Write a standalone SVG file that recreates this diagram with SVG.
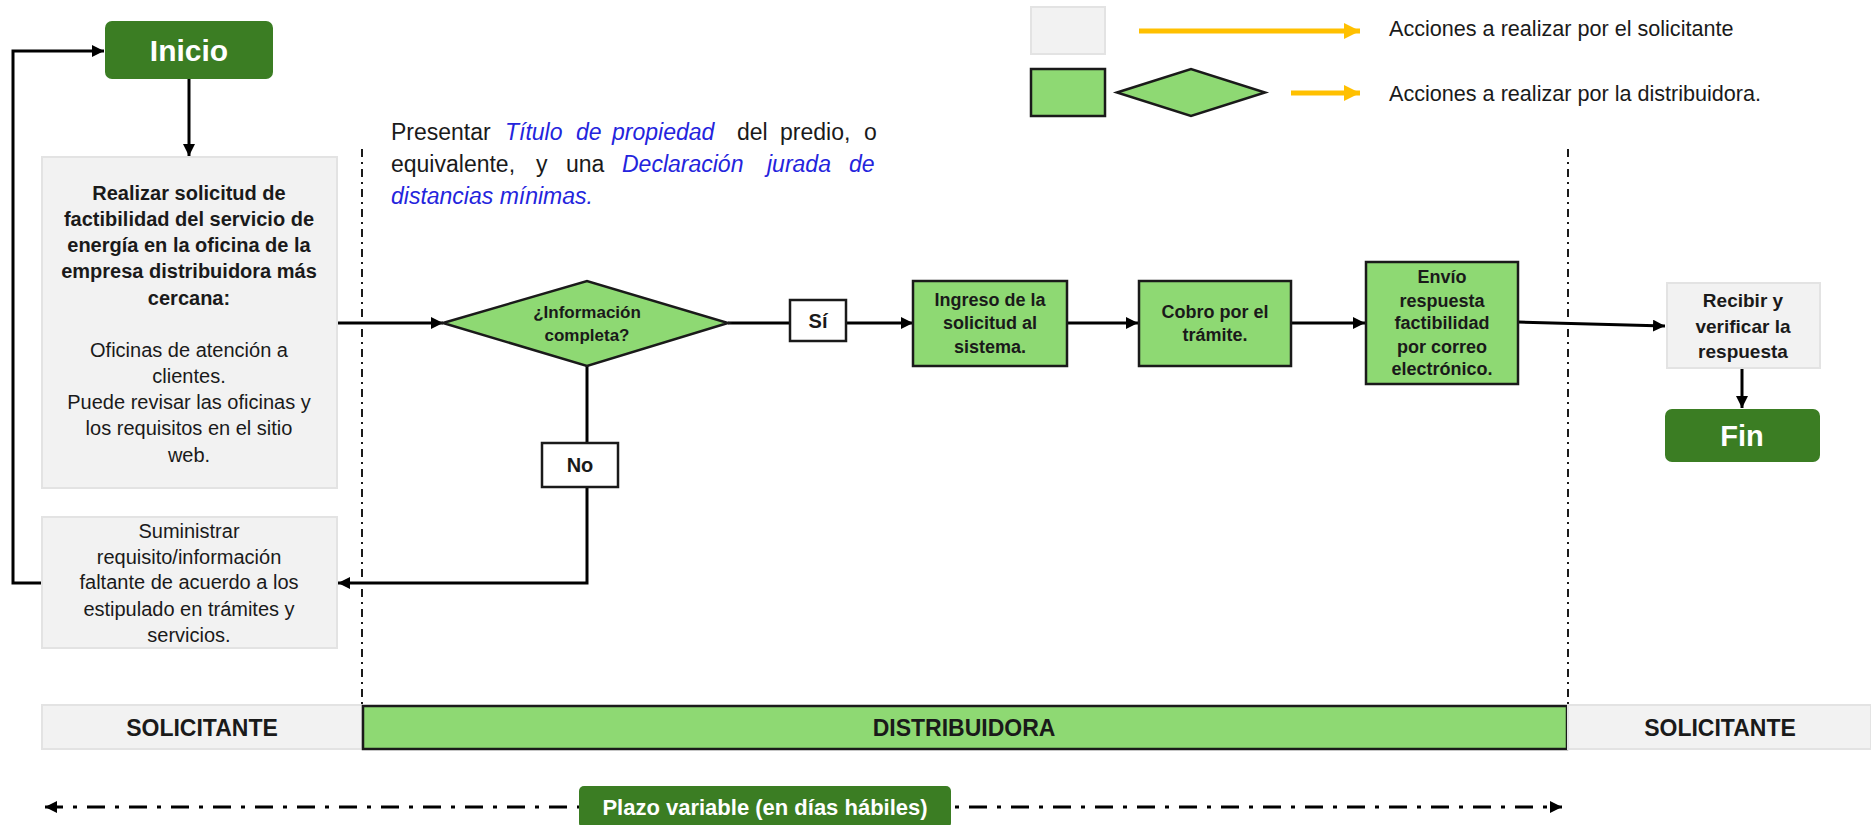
<svg xmlns="http://www.w3.org/2000/svg" width="1871" height="825" viewBox="0 0 1871 825">
<defs>
<style>
text{font-family:"Liberation Sans",Arial,sans-serif;fill:#1a1a1a}
.b{font-weight:bold}
.c{text-anchor:middle}
.gray{fill:#F2F2F2;stroke:#E3E3E3;stroke-width:2}
.green{fill:#8ED973;stroke:#1a1a1a;stroke-width:2.5}
.dark{fill:#3B7D23}
.wt{fill:#ffffff;font-weight:bold;text-anchor:middle}
.lbl{fill:#ffffff;stroke:#1a1a1a;stroke-width:2.5}
.con{fill:none;stroke:#000;stroke-width:3}
.sep{fill:none;stroke:#1a1a1a;stroke-width:2;stroke-dasharray:8 5 2 5}
.blue{fill:#2424DD;font-style:italic}
.yel{fill:none;stroke:#FFC000;stroke-width:5}
</style>
<marker id="ah" viewBox="0 0 10 10" refX="10" refY="5" markerWidth="4" markerHeight="4" markerUnits="strokeWidth" orient="auto-start-reverse">
<path d="M0,0 L10,5 L0,10 z" fill="#000"/>
</marker>
<marker id="ya" viewBox="0 0 10 10" refX="10" refY="5" markerWidth="3.2" markerHeight="3.2" markerUnits="strokeWidth" orient="auto">
<path d="M0,0 L10,5 L0,10 z" fill="#FFC000"/>
</marker>
</defs>
<rect width="1871" height="825" fill="#ffffff"/>

<!-- separators -->
<g id="separators">
<line class="sep" x1="362" y1="149" x2="362" y2="706"/>
<line class="sep" x1="1568" y1="149" x2="1568" y2="706"/>
</g>

<!-- legend -->
<g id="legend">
<rect class="gray" x="1031" y="7" width="74" height="47"/>
<rect class="green" x="1031" y="69" width="74" height="47"/>
<polygon class="green" points="1117,92.5 1191,69 1265,92.5 1191,116"/>
<line class="yel" x1="1139" y1="31" x2="1360" y2="31" marker-end="url(#ya)"/>
<line class="yel" x1="1291" y1="93" x2="1360" y2="93" marker-end="url(#ya)"/>
<text x="1389" y="36" font-size="21.6">Acciones a realizar por el solicitante</text>
<text x="1389" y="101" font-size="21.6">Acciones a realizar por la distribuidora.</text>
</g>

<!-- note -->
<g id="note" font-size="23">
<text y="140"><tspan x="391">Presentar</tspan><tspan class="blue" x="505">Título</tspan><tspan class="blue" x="576">de</tspan><tspan class="blue" x="612">propiedad</tspan><tspan x="737">del</tspan><tspan x="780">predio,</tspan><tspan x="864">o</tspan></text>
<text y="172"><tspan x="391">equivalente,</tspan><tspan x="536">y</tspan><tspan x="566">una</tspan><tspan class="blue" x="622">Declaración</tspan><tspan class="blue" x="767">jurada</tspan><tspan class="blue" x="849">de</tspan></text>
<text y="204"><tspan class="blue" x="391">distancias mínimas.</tspan></text>
</g>

<!-- connectors -->
<g id="connectors">
<line class="con" x1="189" y1="79" x2="189" y2="156" marker-end="url(#ah)"/>
<line class="con" x1="337" y1="323" x2="443" y2="323" marker-end="url(#ah)"/>
<line class="con" x1="728" y1="323" x2="790" y2="323"/>
<line class="con" x1="846" y1="323" x2="913" y2="323" marker-end="url(#ah)"/>
<line class="con" x1="587" y1="366" x2="587" y2="443"/>
<polyline class="con" points="587,487 587,583 338,583" marker-end="url(#ah)"/>
<polyline class="con" points="42,583 13,583 13,51 104,51" marker-end="url(#ah)"/>
<line class="con" x1="1067" y1="323" x2="1138" y2="323" marker-end="url(#ah)"/>
<line class="con" x1="1291" y1="323" x2="1365" y2="323" marker-end="url(#ah)"/>
<line class="con" x1="1518" y1="322" x2="1665" y2="326" marker-end="url(#ah)"/>
<line class="con" x1="1742" y1="368" x2="1742" y2="408" marker-end="url(#ah)"/>
<line x1="45" y1="807" x2="1562" y2="807" stroke="#000" stroke-width="3" stroke-dasharray="18 10 4 10" marker-start="url(#ah)" marker-end="url(#ah)"/>
</g>

<!-- nodes -->
<g id="inicio">
<rect class="dark" x="105" y="21" width="168" height="58" rx="7"/>
<text class="wt" x="189" y="61" font-size="30">Inicio</text>
</g>

<g id="solicitud" font-size="20">
<rect class="gray" x="42" y="157" width="295" height="331"/>
<text class="b c" x="189" y="200">Realizar solicitud de</text>
<text class="b c" x="189" y="226">factibilidad del servicio de</text>
<text class="b c" x="189" y="252">energía en la oficina de la</text>
<text class="b c" x="189" y="278">empresa distribuidora más</text>
<text class="b c" x="189" y="305">cercana:</text>
<text class="c" x="189" y="357">Oficinas de atención a</text>
<text class="c" x="189" y="383">clientes.</text>
<text class="c" x="189" y="409">Puede revisar las oficinas y</text>
<text class="c" x="189" y="435">los requisitos en el sitio</text>
<text class="c" x="189" y="462">web.</text>
</g>

<g id="suministrar" font-size="20">
<rect class="gray" x="42" y="517" width="295" height="131"/>
<text class="c" x="189" y="538">Suministrar</text>
<text class="c" x="189" y="564">requisito/información</text>
<text class="c" x="189" y="589">faltante de acuerdo a los</text>
<text class="c" x="189" y="616">estipulado en trámites y</text>
<text class="c" x="189" y="642">servicios.</text>
</g>

<g id="decision" font-size="17">
<polygon class="green" points="443,323 587,281 728,323 587,366"/>
<text class="b c" x="587" y="318">¿Información</text>
<text class="b c" x="587" y="341">completa?</text>
</g>

<g id="si">
<rect class="lbl" x="790" y="300" width="56" height="41"/>
<text class="b c" x="818" y="328" font-size="20">Sí</text>
</g>

<g id="no">
<rect class="lbl" x="542" y="443" width="76" height="44"/>
<text class="b c" x="580" y="472" font-size="20">No</text>
</g>

<g id="ingreso" font-size="18">
<rect class="green" x="913" y="281" width="154" height="85"/>
<text class="b c" x="990" y="306">Ingreso de la</text>
<text class="b c" x="990" y="329">solicitud al</text>
<text class="b c" x="990" y="353">sistema.</text>
</g>

<g id="cobro" font-size="18">
<rect class="green" x="1139" y="281" width="152" height="85"/>
<text class="b c" x="1215" y="318">Cobro por el</text>
<text class="b c" x="1215" y="341">trámite.</text>
</g>

<g id="envio" font-size="18">
<rect class="green" x="1366" y="262" width="152" height="122"/>
<text class="b c" x="1442" y="283">Envío</text>
<text class="b c" x="1442" y="307">respuesta</text>
<text class="b c" x="1442" y="329">factibilidad</text>
<text class="b c" x="1442" y="353">por correo</text>
<text class="b c" x="1442" y="375">electrónico.</text>
</g>

<g id="recibir" font-size="19">
<rect class="gray" x="1667" y="283" width="153" height="85"/>
<text class="b c" x="1743" y="307">Recibir y</text>
<text class="b c" x="1743" y="333">verificar la</text>
<text class="b c" x="1743" y="358">respuesta</text>
</g>

<g id="fin">
<rect class="dark" x="1665" y="409" width="155" height="53" rx="7"/>
<text class="wt" x="1742" y="446" font-size="29">Fin</text>
</g>

<!-- lanes -->
<g id="lane-solicitante-1">
<rect class="gray" x="42" y="705" width="320" height="44"/>
<text class="b c" x="202" y="736" font-size="23">SOLICITANTE</text>
</g>
<g id="lane-distribuidora">
<rect class="green" x="363" y="706" width="1204" height="43"/>
<text class="b c" x="964" y="736" font-size="23">DISTRIBUIDORA</text>
</g>
<g id="lane-solicitante-2">
<rect class="gray" x="1568" y="705" width="303" height="44" stroke-width="0"/>
<text class="b c" x="1720" y="736" font-size="23">SOLICITANTE</text>
</g>

<g id="plazo">
<rect class="dark" x="579" y="786" width="372" height="42" rx="5"/>
<text class="wt" x="765" y="815" font-size="22">Plazo variable (en días hábiles)</text>
</g>
</svg>
